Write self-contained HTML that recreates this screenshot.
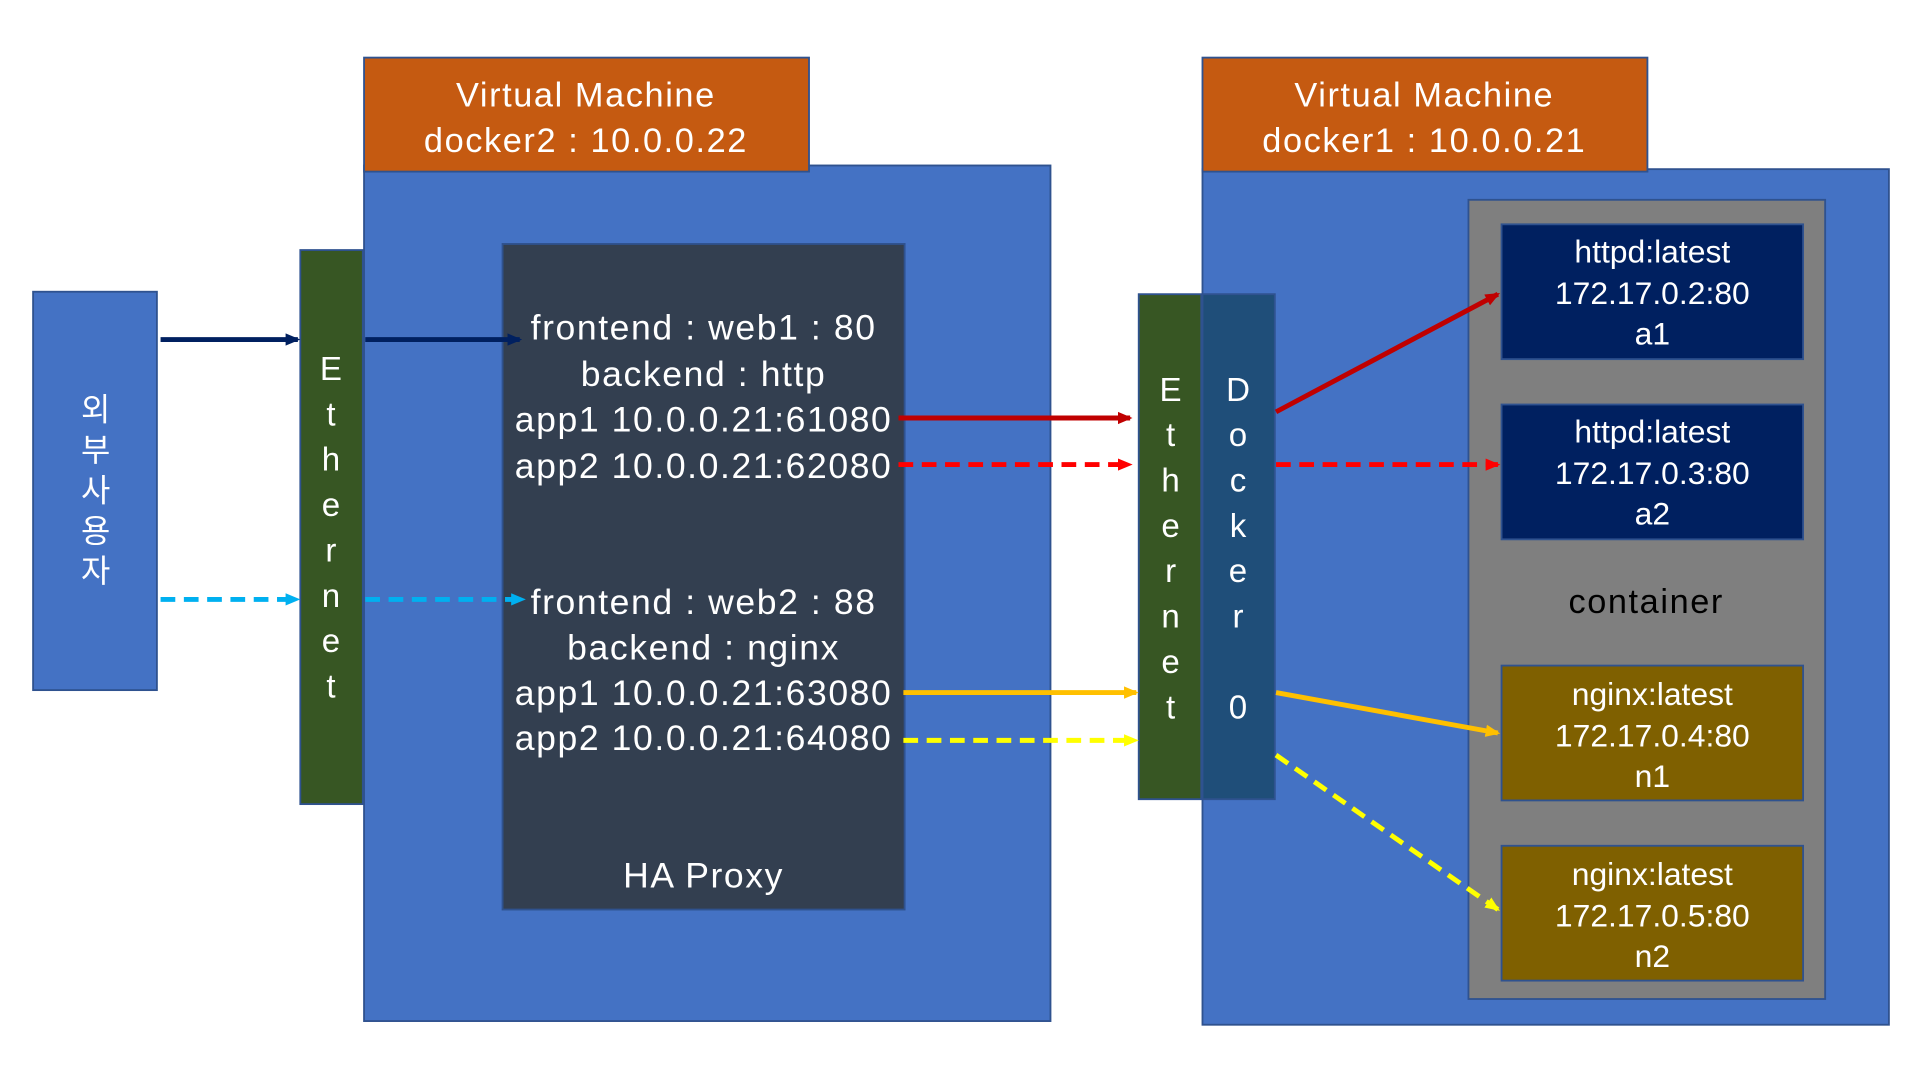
<!DOCTYPE html>
<html><head><meta charset="utf-8"><style>
html,body{margin:0;padding:0;background:#fff;}
svg{display:block;}
text{font-family:"Liberation Sans","Noto Sans CJK KR",sans-serif;fill:#fff;}
.w{letter-spacing:1.3px;}
</style></head><body>
<svg width="1922" height="1075" viewBox="0 0 1568 877" preserveAspectRatio="none" xmlns="http://www.w3.org/2000/svg">
<defs>
<marker id="mN" markerWidth="12" markerHeight="12" refX="10" refY="6" orient="auto" markerUnits="userSpaceOnUse"><path d="M0,1 L12,6 L0,11z" fill="#002060"/></marker>
<marker id="mC" markerWidth="12" markerHeight="12" refX="10" refY="6" orient="auto" markerUnits="userSpaceOnUse"><path d="M0,1 L12,6 L0,11z" fill="#00b0f0"/></marker>
<marker id="mR" markerWidth="12" markerHeight="12" refX="10" refY="6" orient="auto" markerUnits="userSpaceOnUse"><path d="M0,1 L12,6 L0,11z" fill="#c00000"/></marker>
<marker id="mR2" markerWidth="12" markerHeight="12" refX="10" refY="6" orient="auto" markerUnits="userSpaceOnUse"><path d="M0,1 L12,6 L0,11z" fill="#ff0000"/></marker>
<marker id="mO" markerWidth="12" markerHeight="12" refX="10" refY="6" orient="auto" markerUnits="userSpaceOnUse"><path d="M0,1 L12,6 L0,11z" fill="#ffc000"/></marker>
<marker id="mY" markerWidth="12" markerHeight="12" refX="10" refY="6" orient="auto" markerUnits="userSpaceOnUse"><path d="M0,1 L12,6 L0,11z" fill="#ffff00"/></marker>
</defs>

<rect x="27" y="238" width="101" height="325" fill="#4472c4" stroke="#2f528f" stroke-width="1.5"/>
<g font-size="26" text-anchor="middle">
<text x="78" y="343">외</text><text x="78" y="376">부</text><text x="78" y="409">사</text><text x="78" y="442">용</text><text x="78" y="475">자</text>
</g>

<rect x="297" y="135" width="560" height="698" fill="#4472c4" stroke="#2f528f" stroke-width="1.5"/>
<rect x="297" y="47" width="363" height="93" fill="#c55a11" stroke="#2f528f" stroke-width="1.5"/>
<text class="w" x="478" y="87" font-size="28" text-anchor="middle">Virtual Machine</text>
<text class="w" x="478" y="124" font-size="28" text-anchor="middle">docker2 : 10.0.0.22</text>

<rect x="245" y="204" width="51" height="452" fill="#375623" stroke="#2f528f" stroke-width="1.5"/>
<g font-size="27" text-anchor="middle">
<text x="270" y="310">E</text><text x="270" y="347">t</text><text x="270" y="384">h</text><text x="270" y="421">e</text><text x="270" y="458">r</text><text x="270" y="495">n</text><text x="270" y="532">e</text><text x="270" y="569">t</text>
</g>

<rect x="410" y="199" width="328" height="543" fill="#333f50" stroke="#2f528f" stroke-width="1.5"/>
<g font-size="29" text-anchor="middle" class="w">
<text x="574" y="277">frontend : web1 : 80</text>
<text x="574" y="315">backend : http</text>
<text x="574" y="352">app1 10.0.0.21:61080</text>
<text x="574" y="390">app2 10.0.0.21:62080</text>
<text x="574" y="501">frontend : web2 : 88</text>
<text x="574" y="538">backend : nginx</text>
<text x="574" y="575">app1 10.0.0.21:63080</text>
<text x="574" y="612">app2 10.0.0.21:64080</text>
<text x="574" y="724">HA Proxy</text>
</g>

<rect x="981" y="138" width="560" height="698" fill="#4472c4" stroke="#2f528f" stroke-width="1.5"/>
<rect x="981" y="47" width="363" height="93" fill="#c55a11" stroke="#2f528f" stroke-width="1.5"/>
<text class="w" x="1162" y="87" font-size="28" text-anchor="middle">Virtual Machine</text>
<text class="w" x="1162" y="124" font-size="28" text-anchor="middle">docker1 : 10.0.0.21</text>

<rect x="929" y="240" width="51" height="412" fill="#375623" stroke="#2f528f" stroke-width="1.5"/>
<g font-size="27" text-anchor="middle">
<text x="955" y="327">E</text><text x="955" y="364">t</text><text x="955" y="401">h</text><text x="955" y="438">e</text><text x="955" y="475">r</text><text x="955" y="512">n</text><text x="955" y="549">e</text><text x="955" y="586">t</text>
</g>
<rect x="981" y="240" width="59" height="412" fill="#1f4e79" stroke="#2f528f" stroke-width="1.5"/>
<g font-size="27" text-anchor="middle">
<text x="1010" y="327">D</text><text x="1010" y="364">o</text><text x="1010" y="401">c</text><text x="1010" y="438">k</text><text x="1010" y="475">e</text><text x="1010" y="512">r</text><text x="1010" y="586">0</text>
</g>

<rect x="1198" y="163" width="291" height="652" fill="#7f7f7f" stroke="#2f528f" stroke-width="1.5"/>
<text class="w" x="1343" y="500" font-size="28" text-anchor="middle" style="fill:#000">container</text>

<g font-size="26" text-anchor="middle">
<rect x="1225" y="183" width="246" height="110" fill="#002060" stroke="#2f528f" stroke-width="1.5"/>
<text x="1348" y="214">httpd:latest</text><text x="1348" y="248">172.17.0.2:80</text><text x="1348" y="281">a1</text>
<rect x="1225" y="330" width="246" height="110" fill="#002060" stroke="#2f528f" stroke-width="1.5"/>
<text x="1348" y="361">httpd:latest</text><text x="1348" y="395">172.17.0.3:80</text><text x="1348" y="428">a2</text>
<rect x="1225" y="543" width="246" height="110" fill="#7f6000" stroke="#2f528f" stroke-width="1.5"/>
<text x="1348" y="575">nginx:latest</text><text x="1348" y="609">172.17.0.4:80</text><text x="1348" y="642">n1</text>
<rect x="1225" y="690" width="246" height="110" fill="#7f6000" stroke="#2f528f" stroke-width="1.5"/>
<text x="1348" y="722">nginx:latest</text><text x="1348" y="756">172.17.0.5:80</text><text x="1348" y="789">n2</text>
</g>

<g stroke-width="4" fill="none">
<line x1="131" y1="277" x2="243" y2="277" stroke="#002060" marker-end="url(#mN)"/>
<line x1="298" y1="277" x2="424" y2="277" stroke="#002060" marker-end="url(#mN)"/>
<line x1="131" y1="489" x2="243" y2="489" stroke="#00b0f0" stroke-dasharray="12,7" marker-end="url(#mC)"/>
<line x1="298" y1="489" x2="427" y2="489" stroke="#00b0f0" stroke-dasharray="12,7" marker-end="url(#mC)"/>
<line x1="733" y1="341" x2="922" y2="341" stroke="#c00000" marker-end="url(#mR)"/>
<line x1="733" y1="379" x2="922" y2="379" stroke="#ff0000" stroke-dasharray="12,7" marker-end="url(#mR2)"/>
<line x1="737" y1="565" x2="927" y2="565" stroke="#ffc000" marker-end="url(#mO)"/>
<line x1="737" y1="604" x2="927" y2="604" stroke="#ffff00" stroke-dasharray="12,7" marker-end="url(#mY)"/>
<line x1="1041" y1="336" x2="1222" y2="240" stroke="#c00000" marker-end="url(#mR)"/>
<line x1="1041" y1="379" x2="1222" y2="379" stroke="#ff0000" stroke-dasharray="12,7" marker-end="url(#mR2)"/>
<line x1="1041" y1="565" x2="1222" y2="598" stroke="#ffc000" marker-end="url(#mO)"/>
<line x1="1041" y1="616" x2="1222" y2="742" stroke="#ffff00" stroke-dasharray="12,7" marker-end="url(#mY)"/>
</g>
</svg>
</body></html>
